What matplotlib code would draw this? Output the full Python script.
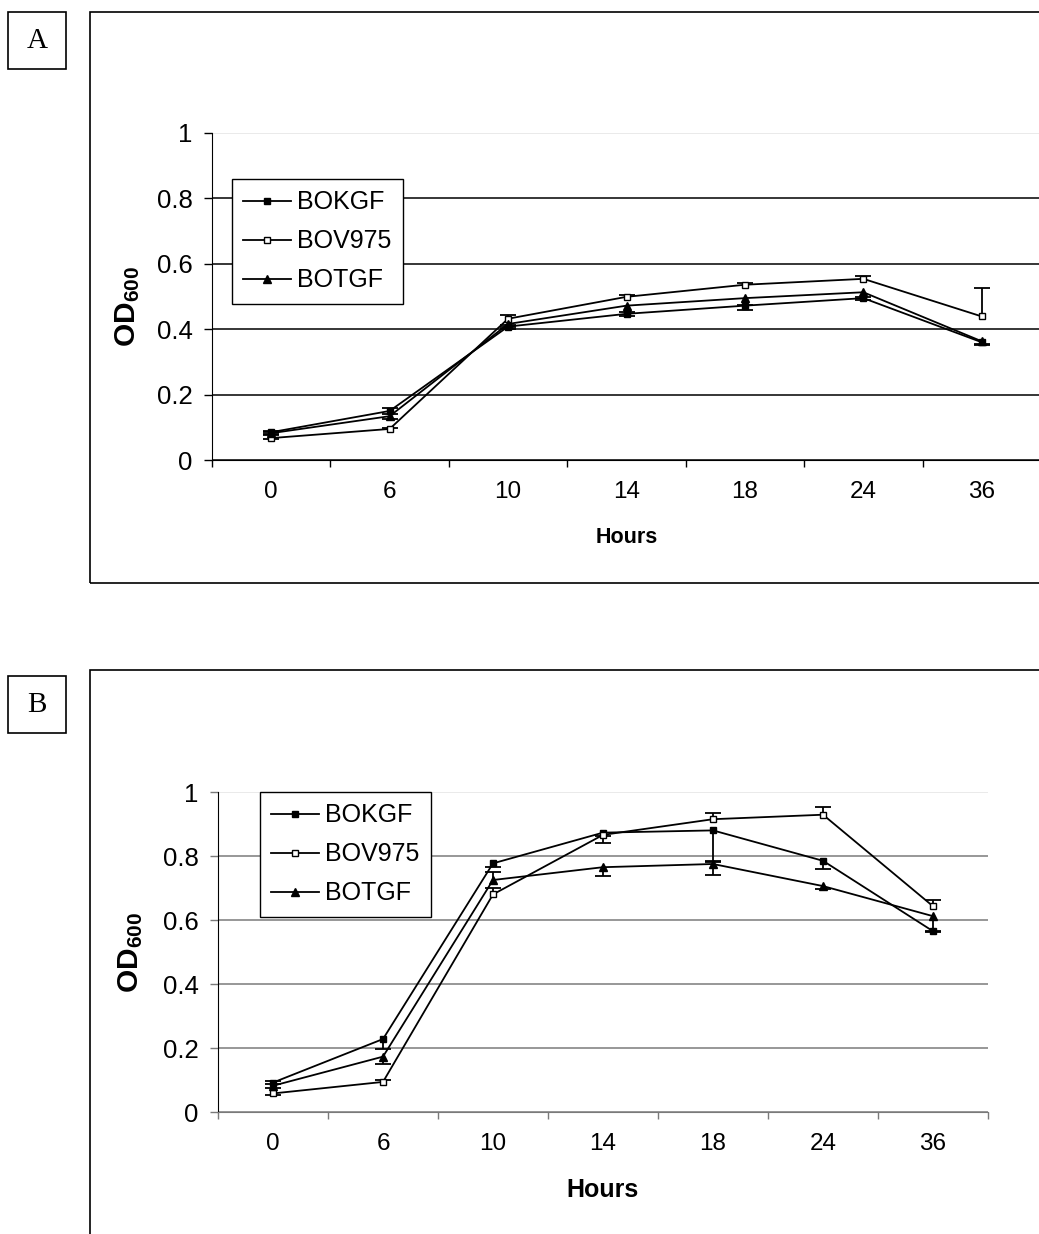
import numpy as np
import matplotlib.pyplot as plt
from matplotlib.patches import Rectangle

plt.rcParams['font.family'] = ['Liberation Sans', 'DejaVu Sans']
plt.rcParams['mathtext.fontset'] = 'custom'
plt.rcParams['mathtext.rm'] = 'Liberation Sans'
plt.rcParams['mathtext.bf'] = 'Liberation Sans:bold'

hours = ['0', '6', '10', '14', '18', '24', '36']
strains = ['BOKGF', 'BOV975', 'BOTGF']
y_ticks = [0, 0.2, 0.4, 0.6, 0.8, 1.0]
y_tick_labels = ['0', '0.2', '0.4', '0.6', '0.8', '1']

# panel A
a_bokgf = [0.085, 0.150, 0.408, 0.447, 0.472, 0.495, 0.360]
a_bov975 = [0.067, 0.095, 0.432, 0.499, 0.536, 0.554, 0.439]
a_botgf = [0.082, 0.134, 0.416, 0.472, 0.495, 0.513, 0.363]
a_bokgf_lo = [0.005, 0.008, 0.006, 0.008, 0.013, 0.006, 0.008]
a_bokgf_hi = [0.005, 0.008, 0.006, 0.0, 0.0, 0.0, 0.0]
a_bov975_lo = [0.004, 0.0, 0.0, 0.0, 0.0, 0.0, 0.0]
a_bov975_hi = [0.0, 0.004, 0.012, 0.006, 0.006, 0.008, 0.088]
a_botgf_lo = [0.005, 0.010, 0.010, 0.020, 0.020, 0.015, 0.008]
a_botgf_hi = [0.005, 0.0, 0.0, 0.0, 0.0, 0.0, 0.0]

# panel B
b_bokgf = [0.092, 0.228, 0.777, 0.873, 0.880, 0.785, 0.565]
b_bov975 = [0.058, 0.094, 0.680, 0.866, 0.915, 0.929, 0.643]
b_botgf = [0.082, 0.173, 0.725, 0.765, 0.775, 0.706, 0.612]
b_bokgf_lo = [0.005, 0.030, 0.010, 0.010, 0.100, 0.027, 0.003]
b_bokgf_hi = [0.005, 0.0, 0.0, 0.0, 0.0, 0.0, 0.0]
b_bov975_lo = [0.005, 0.0, 0.0, 0.025, 0.0, 0.0, 0.0]
b_bov975_hi = [0.0, 0.005, 0.020, 0.0, 0.020, 0.023, 0.020]
b_botgf_lo = [0.008, 0.023, 0.0, 0.027, 0.035, 0.010, 0.045]
b_botgf_hi = [0.0, 0.0, 0.026, 0.0, 0.010, 0.0, 0.0]

W, H = 1039, 1234
fig = plt.figure(figsize=(W / 100, H / 100), dpi=100)


def fx(px):
    return px / W


def fy(py):
    return 1 - py / H


styles = [
    dict(marker='s', ms=4.5, mfc='black', mec='black'),
    dict(marker='s', ms=4.5, mfc='white', mec='black', mew=1.0),
    dict(marker='^', ms=6, mfc='black', mec='black'),
]


def draw_panel(ax, series, lows, highs, grid_color, legend_xy, label_x,
               label_y, hours_fs):
    x = np.arange(len(hours))
    for name, vals, lo, hi, st in zip(strains, series, lows, highs, styles):
        y = np.array(vals)
        lo = np.array(lo)
        hi = np.array(hi)
        ax.vlines(x, y - lo, y + hi, color='black', lw=1.3, zorder=3)
        ax.plot(x[lo > 0], (y - lo)[lo > 0], ls='none', marker='_', ms=11,
                mew=1.3, color='black', zorder=3)
        ax.plot(x[hi > 0], (y + hi)[hi > 0], ls='none', marker='_', ms=11,
                mew=1.3, color='black', zorder=3)
        ax.plot(x, y, color='black', lw=1.3, label=name, zorder=4, **st)

    ax.set_xlim(-0.5, len(hours) - 0.5)
    ax.set_ylim(0, 1)
    ax.set_xticks(np.arange(len(hours) + 1) - 0.5)
    ax.set_xticklabels([])
    ax.set_xticks(x, minor=True)
    ax.set_xticklabels(hours, minor=True, fontsize=17.5)
    ax.tick_params(axis='x', which='major', direction='out', length=5,
                   width=1, color=grid_color)
    ax.tick_params(axis='x', which='minor', length=0, pad=15)
    ax.set_yticks(y_ticks)
    ax.set_yticklabels(y_tick_labels, fontsize=18.5)
    ax.tick_params(axis='y', direction='out', length=6, width=1, pad=8,
                   color=grid_color)

    ax.yaxis.grid(True, color=grid_color, lw=1.1)
    ax.get_ygridlines()[-1].set_color('#e4e4e4')
    ax.set_axisbelow(True)
    for s in ['top', 'right']:
        ax.spines[s].set_visible(False)
    ax.spines['bottom'].set_color(grid_color)
    ax.spines['left'].set_color('black')

    ax.set_xlabel('Hours', fontsize=hours_fs, fontweight='bold')
    ax.xaxis.set_label_coords(0.5, -0.205)
    ax.set_ylabel(r'$\mathbf{OD_{600}}$', fontsize=21.5)
    ax.yaxis.set_label_coords(label_x, label_y)

    leg = ax.legend(loc='upper left', bbox_to_anchor=legend_xy,
                    bbox_transform=fig.transFigure, borderaxespad=0,
                    fontsize=18, frameon=True, fancybox=False,
                    edgecolor='black', framealpha=1, handlelength=1.9,
                    handletextpad=0.25, labelspacing=0.6, borderpad=0.45)
    leg.get_frame().set_linewidth(1.0)
    leg.set_zorder(10)


# panel A
ax_a = fig.add_axes([fx(212), fy(460), fx(1041) - fx(212), (460 - 133) / H])
draw_panel(ax_a, [a_bokgf, a_bov975, a_botgf],
           [a_bokgf_lo, a_bov975_lo, a_botgf_lo],
           [a_bokgf_hi, a_bov975_hi, a_botgf_hi],
           'black', (fx(232), fy(179)), -0.085, 0.47, 15.5)

# panel B
ax_b = fig.add_axes([fx(218), fy(1112), fx(988) - fx(218), (1112 - 792) / H])
draw_panel(ax_b, [b_bokgf, b_bov975, b_botgf],
           [b_bokgf_lo, b_bov975_lo, b_botgf_lo],
           [b_bokgf_hi, b_bov975_hi, b_botgf_hi],
           '#7a7a7a', (fx(260), fy(792)), -0.095, 0.5, 18)

# outer frames
fig.add_artist(Rectangle((fx(90), fy(583)), 1.2, (583 - 12) / H,
                         transform=fig.transFigure, fill=False,
                         ec='black', lw=1.2))
fig.add_artist(Rectangle((fx(90), -0.2), 1.2, (1234 - 670) / H + 0.2,
                         transform=fig.transFigure, fill=False,
                         ec='black', lw=1.2))

# panel letters
for letter, top in [('A', 12), ('B', 676)]:
    fig.add_artist(Rectangle((fx(8), fy(top + 57)), 58 / W, 57 / H,
                             transform=fig.transFigure, fill=False,
                             ec='black', lw=1.2))
    fig.text(fx(37), fy(top + 29), letter, ha='center', va='center',
             fontsize=21, family=['Liberation Serif', 'DejaVu Serif'])

fig.savefig('out.png', dpi=100)
